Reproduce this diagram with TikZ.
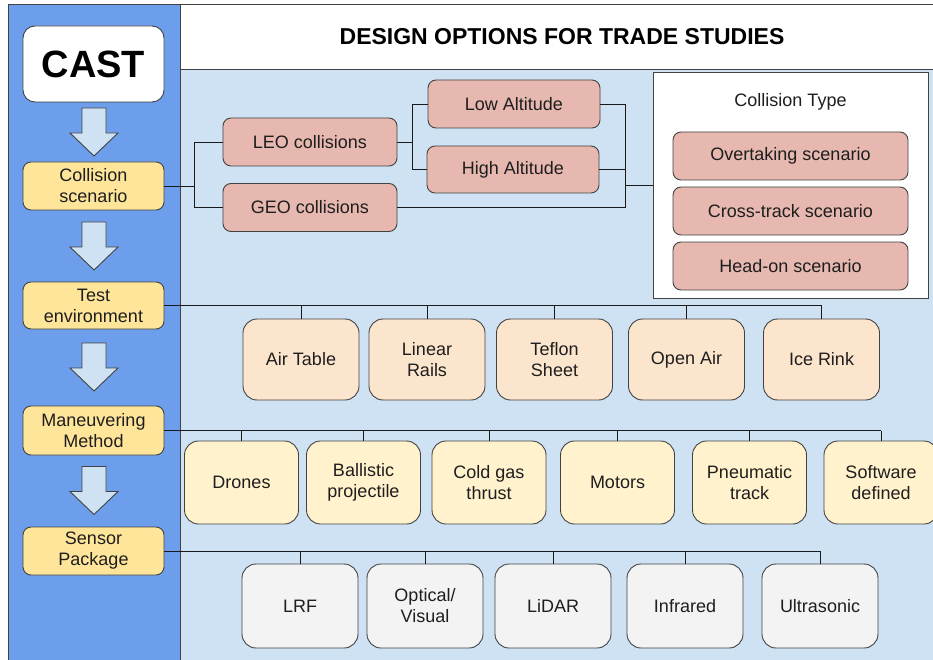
\documentclass[tikz,border=0pt]{standalone}
\usepackage{fontspec}
\setmainfont{Liberation Sans}
\definecolor{colblue}{HTML}{6D9EEB}
\definecolor{areablue}{HTML}{CFE2F3}
\definecolor{stagefill}{HTML}{FFE599}
\definecolor{pinkfill}{HTML}{E6B8AF}
\definecolor{peachfill}{HTML}{FCE5CD}
\definecolor{creamfill}{HTML}{FFF2CC}
\definecolor{greyfill}{HTML}{F3F3F3}
\definecolor{edgec}{HTML}{424242}
\definecolor{textc}{HTML}{1E1E1E}
\tikzset{
  basebox/.style={draw=edgec, line width=0.9pt, rounded corners=8pt,
    font=\fontsize{18}{21}\selectfont, align=center, inner sep=0pt, text=textc},
  stagebox/.style={basebox, fill=stagefill, minimum width=141pt, minimum height=48pt},
  pinkbox/.style={basebox, fill=pinkfill},
  optbox/.style={basebox, rounded corners=14pt, minimum height=83pt},
  conn/.style={draw=black!90, line width=0.9pt},
  blockarrow/.style={draw=edgec, line width=0.9pt, fill=areablue, line join=miter},
  downarrow/.pic={\path[blockarrow] (-12,-24) -- (12,-24) -- (12,1) -- (24,1) -- (0,24) -- (-24,1) -- (-12,1) -- cycle;}
}
\begin{document}
\begin{tikzpicture}[x=1pt,y=-1pt]
\clip (0,0) rectangle (933,660);
\fill[white] (0,0) rectangle (933,660);
% panels
\fill[colblue] (8,4) rectangle (180,665);
\fill[white] (180,4) rectangle (940,69);
\fill[areablue] (180,69) rectangle (940,665);
\draw[edgec, line width=0.9pt] (8,665) -- (8,4) -- (940,4);
\draw[edgec, line width=0.9pt] (180,4) -- (180,665);
\draw[edgec, line width=0.9pt] (180,69) -- (940,69);

\node[font=\fontsize{23}{26}\selectfont\bfseries, text=black] (title) at (562,37) {DESIGN OPTIONS FOR TRADE STUDIES};

% stage column
\node[basebox, fill=white, rounded corners=12pt, minimum width=141pt, minimum height=76pt,
      font=\fontsize{38}{40}\selectfont\bfseries, text=black] (cast) at (93.5,64) {CAST};
\node[stagebox] (scen) at (93.5,186) {Collision\\scenario};
\node[stagebox, minimum height=47pt] (test) at (93.5,305.5) {Test\\environment};
\node[stagebox, minimum height=49pt] (man) at (93.5,430.5) {Maneuvering\\Method};
\node[stagebox] (sens) at (93.5,551) {Sensor\\Package};
\pic at (94,132) {downarrow};
\pic at (94,246) {downarrow};
\pic at (94,367) {downarrow};
\pic at (94,490.5) {downarrow};

% collision scenario tree
\node[pinkbox, minimum width=174pt, minimum height=48pt] (leo) at (310,142) {LEO collisions};
\node[pinkbox, minimum width=174pt, minimum height=48pt] (geo) at (310,207.5) {GEO collisions};
\node[pinkbox, minimum width=172pt, minimum height=48pt] (low) at (514,104) {Low Altitude};
\node[pinkbox, minimum width=172pt, minimum height=47pt] (high) at (513,169.5) {High Altitude};
\node[draw=edgec, line width=0.9pt, fill=white, minimum width=275pt, minimum height=226pt, inner sep=0pt] (ctype) at (790.5,185) {};
\node[font=\fontsize{18}{21}\selectfont, text=textc] (ctlabel) at (790.5,102) {Collision Type};
\node[pinkbox, minimum width=235pt, minimum height=48pt] (over) at (790.5,156) {Overtaking scenario};
\node[pinkbox, minimum width=235pt, minimum height=48pt] (cross) at (790.5,211) {Cross-track scenario};
\node[pinkbox, minimum width=235pt, minimum height=48pt] (head) at (790.5,266) {Head-on scenario};

\coordinate (j1) at (194,186);
\coordinate (j2) at (412,142);
\coordinate (j3) at (625,185);
\draw[conn] (scen.east) -- (j1);
\draw[conn] (leo.west) -| (j1);
\draw[conn] (geo.west) -| (j1);
\draw[conn] (leo.east) -- (j2);
\draw[conn] (low.west) -| (j2);
\draw[conn] (high.west) -| (j2);
\draw[conn] (low.east) -| (j3);
\draw[conn] (high.east) -| (j3);
\draw[conn] (geo.east) -| (j3);
\draw[conn] (j3) -- (ctype.west);

% test environment options
\foreach \nm/\cx/\txt in {air/301/{Air Table}, rails/427/{Linear\\Rails}, teflon/554.5/{Teflon\\Sheet}, open/686.5/{Open Air}, ice/821.5/{Ice Rink}}{
  \node[optbox, fill=peachfill, minimum width=116pt, minimum height=81pt] (\nm) at (\cx,359.5) {\txt};
  \draw[conn] (\nm.north) -- (\nm.north |- test.east);
}
\draw[conn] (test.east) -- (ice.north |- test.east);

% maneuvering method options
\foreach \nm/\cx/\txt in {drones/241.5/{Drones}, ballistic/363.5/{Ballistic\\projectile}, coldgas/489/{Cold gas\\thrust}, motors/617.5/{Motors}, pneu/749.5/{Pneumatic\\track}, soft/881/{Software\\defined}}{
  \node[optbox, fill=creamfill, minimum width=114pt] (\nm) at (\cx,482.5) {\txt};
  \draw[conn] (\nm.north) -- (\nm.north |- man.east);
}
\draw[conn] (man.east) -- (soft.north |- man.east);

% sensor package options
\foreach \nm/\cx/\txt in {lrf/300/{LRF}, optical/425/{Optical/\\Visual}, lidar/553/{LiDAR}, infra/685/{Infrared}, ultra/820/{Ultrasonic}}{
  \node[optbox, fill=greyfill, minimum width=116pt, minimum height=84pt] (\nm) at (\cx,606) {\txt};
  \draw[conn] (\nm.north) -- (\nm.north |- sens.east);
}
\draw[conn] (sens.east) -- (ultra.north |- sens.east);
\end{tikzpicture}
\end{document}
